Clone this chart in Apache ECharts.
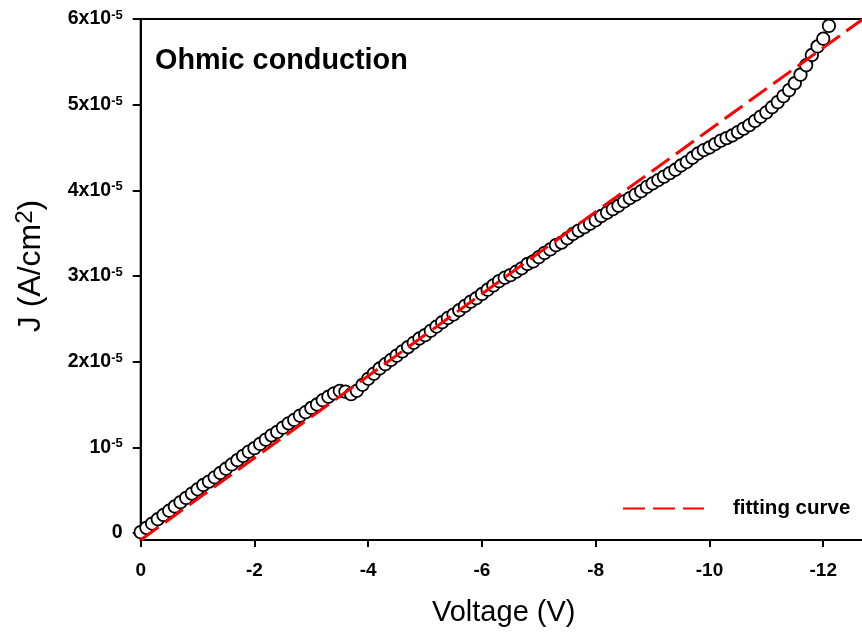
<!DOCTYPE html>
<html><head><meta charset="utf-8">
<script src="https://cdn.jsdelivr.net/npm/echarts@6/dist/echarts.min.js"></script>
<style>html,body{margin:0;padding:0;background:#fff;overflow:hidden}#c{width:940px;height:639px}</style>
</head><body><div id="c"></div>
<script>
// Measured voltage (V)
const voltage = [0,-0.1,-0.2,-0.3,-0.4,-0.5,-0.6,-0.7,-0.8,-0.9,-1.0,-1.1,-1.2,-1.3,-1.4,-1.5,-1.6,-1.7,-1.8,-1.9,
-2.0,-2.1,-2.2,-2.3,-2.4,-2.5,-2.6,-2.7,-2.8,-2.9,-3.0,-3.1,-3.2,-3.3,-3.4,-3.5,-3.6,-3.7,-3.8,-3.9,
-4.0,-4.1,-4.2,-4.3,-4.4,-4.5,-4.6,-4.7,-4.8,-4.9,-5.0,-5.1,-5.2,-5.3,-5.4,-5.5,-5.6,-5.7,-5.8,-5.9,
-6.0,-6.1,-6.2,-6.3,-6.4,-6.5,-6.6,-6.7,-6.8,-6.9,-7.0,-7.1,-7.2,-7.3,-7.4,-7.5,-7.6,-7.7,-7.8,-7.9,
-8.0,-8.1,-8.2,-8.3,-8.4,-8.5,-8.6,-8.7,-8.8,-8.9,-9.0,-9.1,-9.2,-9.3,-9.4,-9.5,-9.6,-9.7,-9.8,-9.9,
-10.0,-10.1,-10.2,-10.3,-10.4,-10.5,-10.6,-10.7,-10.8,-10.9,-11.0,-11.1,-11.2,-11.3,-11.4,-11.5,-11.6,-11.7,-11.8,-11.9,
-12.0,-12.1];
// Measured current density, in units of 1e-5 A/cm^2
const currentDensityE5 = [0.01,0.06,0.11,0.16,0.21,0.26,0.31,0.36,0.41,0.46,0.51,0.56,0.60,0.65,0.70,0.75,0.80,0.85,0.90,0.95,
0.99,1.04,1.09,1.14,1.18,1.23,1.28,1.32,1.37,1.41,1.46,1.50,1.55,1.59,1.63,1.66,1.65,1.62,1.66,1.73,
1.80,1.86,1.92,1.97,2.02,2.07,2.12,2.17,2.22,2.27,2.31,2.36,2.41,2.46,2.51,2.55,2.60,2.65,2.70,2.74,
2.79,2.84,2.89,2.94,2.98,3.01,3.05,3.09,3.14,3.17,3.22,3.27,3.31,3.36,3.39,3.44,3.49,3.53,3.57,3.61,
3.65,3.70,3.74,3.78,3.82,3.87,3.91,3.95,3.99,4.04,4.08,4.12,4.16,4.20,4.24,4.29,4.33,4.38,4.43,4.47,
4.50,4.54,4.58,4.61,4.64,4.68,4.72,4.76,4.81,4.86,4.91,4.97,5.03,5.10,5.17,5.25,5.35,5.46,5.58,5.68,
5.77,5.92];
// Fitting curve end points
const fitVoltage = [0, -12.7];
const fitCurrentDensityE5 = [-0.082, 6.0];
// Axis ticks
const xTicks = [0, -2, -4, -6, -8, -10, -12];
const yTicksE5 = [0, 1, 2, 3, 4, 5, 6];

const E5 = 1e-5;
const scatterData = voltage.map((v, i) => [v, currentDensityE5[i] * E5]);
const fitData = fitVoltage.map((v, i) => [v, fitCurrentDensityE5[i] * E5]);

const FONT = 'Liberation Sans, Arial, sans-serif';
const chart = echarts.init(document.getElementById('c'), null, {renderer: 'canvas'});
chart.setOption({
  animation: false,
  backgroundColor: '#fff',
  title: {
    text: 'Ohmic conduction', left: 150, top: 42,
    textStyle: {fontFamily: FONT, fontWeight: 'bold', fontSize: 28.8, color: '#000'}
  },
  legend: {
    data: ['fitting curve'], left: 617, top: 493, orient: 'horizontal',
    itemWidth: 81, itemHeight: 14,
    itemStyle: {opacity: 0},
    textStyle: {fontFamily: FONT, fontWeight: 'bold', fontSize: 20.5, color: '#000', padding: [0, 0, 0, 24]}
  },
  grid: {left: 140.7, top: 19, width: 796.6, height: 521, show: true, borderColor: '#000', borderWidth: 2, backgroundColor: 'transparent'},
  xAxis: {
    type: 'value', inverse: true, min: -14, max: 0, interval: 2,
    axisLine: {show: true, onZero: false, lineStyle: {color: '#000', width: 2}},
    axisTick: {show: true, inside: false, length: 7, lineStyle: {color: '#000', width: 2}},
    axisLabel: {margin: 21, fontFamily: FONT, fontWeight: 'bold', fontSize: 19, color: '#000',
      formatter: v => xTicks.indexOf(v) >= 0 ? String(v) : ''},
    splitLine: {show: false}
  },
  yAxis: {
    type: 'value', min: fitCurrentDensityE5[0] * E5, max: 6 * E5,
    axisLine: {show: true, onZero: false, lineStyle: {color: '#000', width: 2}},
    axisTick: {show: true, length: 8, lineStyle: {color: '#000', width: 2},
      customValues: yTicksE5.map(t => t * E5)},
    axisLabel: {margin: 18, fontFamily: FONT, color: '#000',
      customValues: yTicksE5.map(t => t * E5),
      formatter: v => {
        const n = Math.round(v / E5);
        if (n === 0) return '{b|0}';
        if (n === 1) return '{b|10}{s|-5}';
        return '{b|' + n + 'x10}{s|-5}';
      },
      rich: {
        b: {fontFamily: FONT, fontWeight: 'bold', fontSize: 19.5, color: '#000'},
        s: {fontFamily: FONT, fontWeight: 'bold', fontSize: 13, color: '#000', verticalAlign: 'top', padding: [0, 0, 5, 0]}
      }
    },
    splitLine: {show: false}
  },
  graphic: [{
    type: 'text', left: 432, top: 598,
    style: {text: 'Voltage (V)', font: '29px ' + FONT, fill: '#000'}
  }, {
    type: 'text', x: 31, y: 266, rotation: Math.PI / 2,
    style: {
      text: '{a|J (A/cm}{s|2}{a|)}', align: 'center', verticalAlign: 'middle',
      rich: {
        a: {fontFamily: FONT, fontSize: 32, fill: '#000', color: '#000'},
        s: {fontFamily: FONT, fontSize: 24, fill: '#000', color: '#000', verticalAlign: 'top', padding: [0, 0, 12, 0]}
      }
    }
  }],
  series: [{
    name: 'data', type: 'scatter', data: scatterData, symbol: 'circle', symbolSize: 12.5,
    itemStyle: {color: '#fff', borderColor: '#000', borderWidth: 1.8, opacity: 1},
    z: 2
  }, {
    name: 'fitting curve', type: 'line', data: fitData, symbol: 'none', showSymbol: false,
    lineStyle: {color: '#ff0000', width: 3, type: [22, 8]},
    itemStyle: {color: '#ff0000'},
    z: 3
  }]
});
</script></body></html>
